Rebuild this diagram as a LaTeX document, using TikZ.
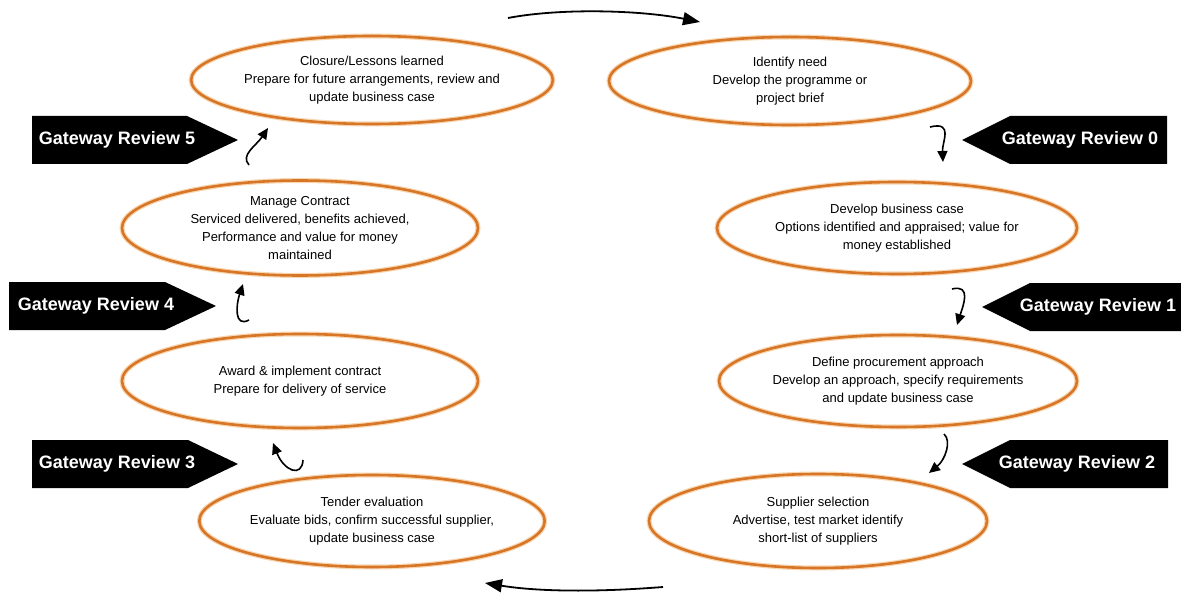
\documentclass[tikz,border=0pt]{standalone}
\usepackage{fontspec}
\setmainfont{Liberation Sans}
\usetikzlibrary{shapes.geometric,arrows.meta}
\definecolor{ora}{RGB}{216,118,40}
\definecolor{oraglow}{RGB}{248,214,176}
\tikzset{
  stage/.style={ellipse, draw=ora, line width=2.6pt, inner sep=0pt, align=center,
    font=\fontsize{13}{18}\selectfont, text=black,
    preaction={draw=oraglow, line width=5pt}},
  grlabel/.style={text=white, font=\bfseries\fontsize{18}{20}\selectfont, inner sep=0pt},
  grbox/.style={fill=black},
  curl/.style={line width=1.6pt, -{Triangle[length=11pt,width=10pt]}},
  bigarrow/.style={line width=1.8pt, -{Triangle[length=17pt,width=13pt]}}
}
\begin{document}
\begin{tikzpicture}[x=1pt,y=-1pt]
\useasboundingbox[fill=white] (0,0) rectangle (1181,596);

% stages
\node[stage, minimum width=338, minimum height=88] (closure) at (372,80)
  {Closure/Lessons learned\\Prepare for future arrangements, review and\\update business case};
\node[stage, minimum width=362, minimum height=88] (identify) at (790,81)
  {Identify need\\Develop the programme or\\project brief};
\node[stage, minimum width=356, minimum height=95] (manage) at (300,228)
  {Manage Contract\\Serviced delivered, benefits achieved,\\Performance and value for money\\maintained};
\node[stage, minimum width=360, minimum height=92] (business) at (897,228)
  {Develop business case\\Options identified and appraised; value for\\money established};
\node[stage, minimum width=356, minimum height=94] (award) at (300,381)
  {Award \& implement contract\\Prepare for delivery of service};
\node[stage, minimum width=358, minimum height=92] (procure) at (898,381)
  {Define procurement approach\\Develop an approach, specify requirements\\and update business case};
\node[stage, minimum width=334, minimum height=92] (tender) at (372,521)
  {Tender evaluation\\Evaluate bids, confirm successful supplier,\\update business case};
\node[stage, minimum width=338, minimum height=94] (supplier) at (818,521)
  {Supplier selection\\Advertise, test market identify\\short-list of suppliers};

% gateway boxes
\fill[grbox] (32,116) -- (187,116) -- (238,140) -- (187,164) -- (32,164) -- cycle;
\node[grlabel] (gr5) at (117,140) {Gateway Review 5};
\fill[grbox] (1167,116) -- (1010,116) -- (962,140) -- (1010,164) -- (1167,164) -- cycle;
\node[grlabel] (gr0) at (1080,140) {Gateway Review 0};
\fill[grbox] (9,282) -- (165,282) -- (216,306) -- (165,330) -- (9,330) -- cycle;
\node[grlabel] (gr4) at (96,306) {Gateway Review 4};
\fill[grbox] (1181,283) -- (1030,283) -- (982,307) -- (1030,331) -- (1181,331) -- cycle;
\node[grlabel] (gr1) at (1098,307) {Gateway Review 1};
\fill[grbox] (32,440) -- (188,440) -- (238,464) -- (188,488) -- (32,488) -- cycle;
\node[grlabel] (gr3) at (117,464) {Gateway Review 3};
\fill[grbox] (1168,440) -- (1010,440) -- (962,464) -- (1010,488) -- (1168,488) -- cycle;
\node[grlabel] (gr2) at (1077,464) {Gateway Review 2};

% curly arrows
\draw[curl] (249,165) .. controls (240,155) and (256,146) .. (268,128);
\draw[curl] (930,127) .. controls (954,121) and (942,142) .. (943,162);
\draw[curl] (249,320) .. controls (234,328) and (236,305) .. (243,284);
\draw[curl] (952,289) .. controls (972,284) and (963,306) .. (957,325);
\draw[curl] (303,460) .. controls (302,478) and (284,471) .. (273,443);
\draw[curl] (944,434) .. controls (952,441) and (945,460) .. (929,473);

% big arrows
\draw[bigarrow] (508,18) .. controls (560,8) and (640,10) .. (700,22);
\draw[bigarrow] (663,587) .. controls (600,592) and (540,592) .. (485,583);
\end{tikzpicture}
\end{document}
